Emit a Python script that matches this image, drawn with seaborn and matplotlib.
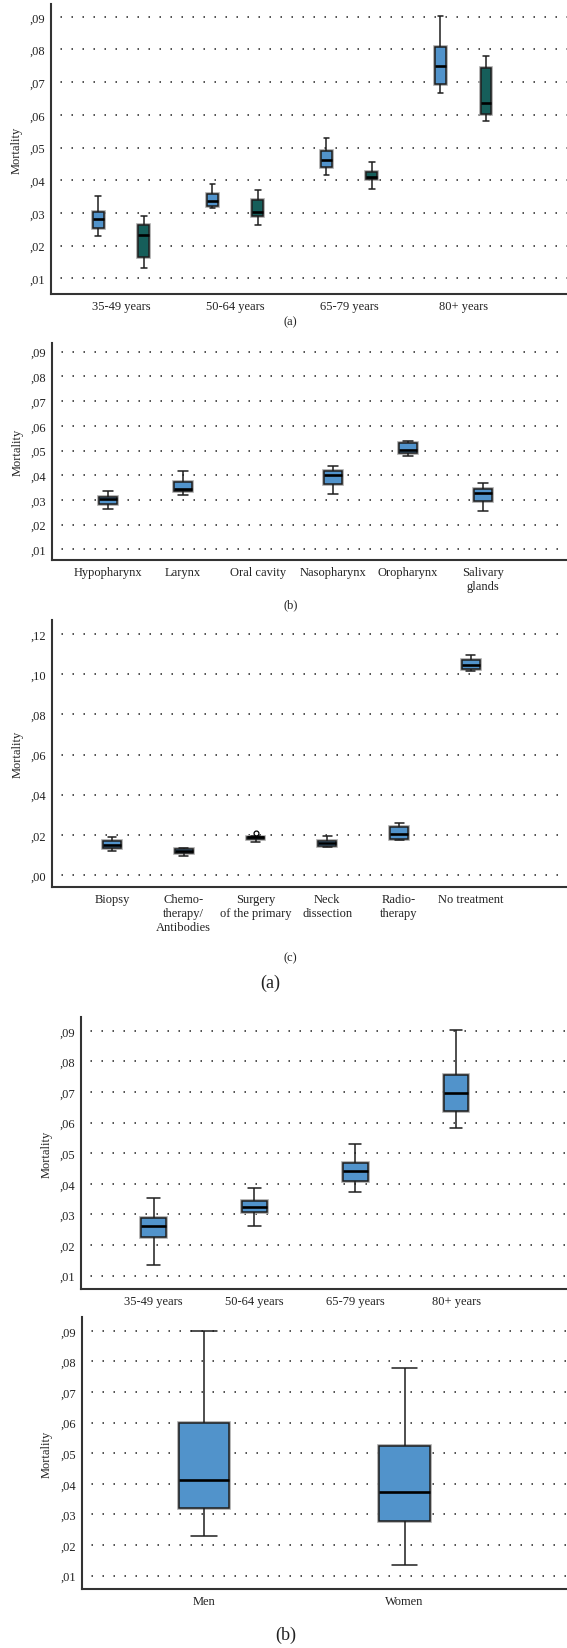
import numpy as np
import pandas as pd
import matplotlib
matplotlib.use('Agg')
import matplotlib.pyplot as plt
import matplotlib.patheffects as pe
from matplotlib.ticker import FuncFormatter, MultipleLocator
import seaborn as sns

sns.set_theme(style='white')
plt.rcParams['font.family'] = ['Liberation Serif', 'DejaVu Serif']

# box summaries: [whisker low, Q1, median, Q3, whisker high]
age_groups = ['35-49 years', '50-64 years', '65-79 years', '80+ years']
sexes = ['Men', 'Women']
age_men = [[0.0230, 0.0255, 0.0282, 0.0304, 0.0351],
           [0.0315, 0.0321, 0.0337, 0.0358, 0.0387],
           [0.0415, 0.0441, 0.0463, 0.0488, 0.0528],
           [0.0667, 0.0695, 0.0750, 0.0808, 0.0901]]
age_women = [[0.0132, 0.0165, 0.0233, 0.0263, 0.0290],
             [0.0263, 0.0290, 0.0304, 0.0338, 0.0370],
             [0.0372, 0.0404, 0.0411, 0.0426, 0.0456],
             [0.0580, 0.0604, 0.0637, 0.0743, 0.0781]]

sites = ['Hypopharynx', 'Larynx', 'Oral cavity', 'Nasopharynx', 'Oropharynx', 'Salivary\nglands']
site_stats = [[0.0264, 0.0285, 0.0302, 0.0313, 0.0336],
              [0.0321, 0.0335, 0.0344, 0.0372, 0.0416],
              None,
              [0.0324, 0.0363, 0.0399, 0.0416, 0.0438],
              [0.0476, 0.0488, 0.0503, 0.0529, 0.0538],
              [0.0255, 0.0294, 0.0328, 0.0345, 0.0370]]

treatments = ['Biopsy', 'Chemo-\ntherapy/\nAntibodies', 'Surgery\nof the primary',
              'Neck\ndissection', 'Radio-\ntherapy', 'No treatment']
treat_stats = [[0.0118, 0.0134, 0.0148, 0.0169, 0.0191],
               [0.0096, 0.0108, 0.0120, 0.0131, 0.0136],
               [0.0167, 0.0180, 0.0187, 0.0190, 0.0194],
               [0.0138, 0.0146, 0.0159, 0.0169, 0.0196],
               [0.0176, 0.0181, 0.0202, 0.0239, 0.0261],
               [0.1014, 0.1024, 0.1044, 0.1072, 0.1095]]
treat_fliers = [[], [], [0.0210], [], [], []]

age_all = [[0.0134, 0.0226, 0.0263, 0.0290, 0.0353],
           [0.0262, 0.0307, 0.0325, 0.0344, 0.0387],
           [0.0373, 0.0410, 0.0442, 0.0467, 0.0529],
           [0.0581, 0.0637, 0.0698, 0.0755, 0.0901]]
sex_stats = [[0.0231, 0.0322, 0.0413, 0.0599, 0.0900],
             [0.0134, 0.0278, 0.0374, 0.0525, 0.0780]]

blue = '#5193cb'
green = '#165e5a'
fsize = 9


def to_long(cats, stats, fliers=None, group=None):
    # points whose quartiles / ends give back the summaries above
    rows = []
    for i, (c, s) in enumerate(zip(cats, stats)):
        if s is None:
            continue
        lo, q1, med, q3, hi = s
        f = fliers[i] if fliers else []
        if f:
            vals = [lo, q1, q1, med, med, q3, q3, hi] + f
        else:
            vals = [lo, q1, med, q3, hi]
        rows += [(c, v, group) for v in vals]
    return pd.DataFrame(rows, columns=['cat', 'mortality', 'sex'])


W, H = 567, 1649
fig = plt.figure(figsize=(W / 100, H / 100), dpi=100)


def make_ax(l, t, r, b):
    return fig.add_axes([l / W, 1 - b / H, (r - l) / W, (b - t) / H])


def style(ax, xlim, ylim, step, lab_x):
    ax.set_xlim(*xlim)
    ax.set_ylim(*ylim)
    ax.yaxis.set_major_locator(MultipleLocator(step))
    ax.yaxis.set_major_formatter(FuncFormatter(lambda v, p: ',' + '{:.2f}'.format(abs(v))[2:]))
    ax.yaxis.grid(True, linestyle=(1, (1, 6.2)), color='#222222', linewidth=1.1)
    ax.xaxis.grid(False)
    ax.set_axisbelow(True)
    sns.despine(ax=ax)
    for s in ['left', 'bottom']:
        ax.spines[s].set_color('#333333')
        ax.spines[s].set_linewidth(1.5)
    ax.tick_params(length=0, labelsize=fsize, colors='#222222')
    ax.tick_params(axis='y', pad=4)
    ax.tick_params(axis='x', pad=4)
    for t in ax.get_xticklabels():
        t.set_linespacing(1.25)
    ax.set_xlabel('')
    ax.set_ylabel('Mortality', fontsize=fsize, color='#222222')
    ax.yaxis.set_label_coords(lab_x, 0.5)
    # faint grey rim round the boxes
    for p in ax.patches:
        p.set_path_effects([pe.Stroke(linewidth=2.6, foreground='#a8a8a8'), pe.Normal()])


box_kw = dict(linecolor='#1e1e1e', linewidth=1.1, saturation=1,
              medianprops=dict(color='black', linewidth=1.9),
              flierprops=dict(marker='o', markersize=3.5, markerfacecolor='white',
                              markeredgecolor='black', markeredgewidth=0.9))

# panel 1: age by sex
ax1 = make_ax(51, 5, 567, 295)
d1 = pd.concat([to_long(age_groups, age_men, group='Men'),
                to_long(age_groups, age_women, group='Women')])
sns.boxplot(data=d1, x='cat', y='mortality', hue='sex', order=age_groups, hue_order=sexes,
            palette=[blue, green], width=0.8, gap=0.76, whis=(0, 100), legend=False,
            ax=ax1, **box_kw)
style(ax1, (-0.614, 3.91), (0.0052, 0.0939), 0.01, (23 - 51) / 516)

# panel 2: tumour site
ax2 = make_ax(51.7, 344, 567, 561)
sns.boxplot(data=to_long(sites, site_stats), x='cat', y='mortality', order=sites,
            color=blue, width=0.245, whis=(0, 100), ax=ax2, **box_kw)
style(ax2, (-0.75, 6.12), (0.0057, 0.0935), 0.01, (24 - 51.7) / 515.3)

# panel 3: treatment
ax3 = make_ax(51.7, 621, 567, 888.3)
sns.boxplot(data=to_long(treatments, treat_stats, treat_fliers), x='cat', y='mortality',
            order=treatments, color=blue, width=0.25, whis=1.5, ax=ax3, **box_kw)
style(ax3, (-0.84, 6.34), (-0.0061, 0.127), 0.02, (24 - 51.7) / 515.3)

# panel 4: age, all patients
ax4 = make_ax(81, 1018.3, 567, 1290)
sns.boxplot(data=to_long(age_groups, age_all), x='cat', y='mortality', order=age_groups,
            color=blue, width=0.245, whis=(0, 100), ax=ax4, **box_kw)
style(ax4, (-0.72, 4.10), (0.00565, 0.0944), 0.01, (53 - 81) / 486)

# panel 5: sex
ax5 = make_ax(81.7, 1318, 567, 1590)
sns.boxplot(data=to_long(sexes, sex_stats), x='cat', y='mortality', order=sexes,
            color=blue, width=0.254, whis=(0, 100), ax=ax5, **box_kw)
style(ax5, (-0.61, 1.81), (0.00565, 0.0945), 0.01, (53 - 81.7) / 485.3)

for x, y, s, fs in [(290, 322.7, '(a)', fsize), (290.7, 605, '(b)', fsize), (290.7, 958.5, '(c)', fsize),
                    (270, 983, '(a)', 13), (285.7, 1635, '(b)', 13)]:
    fig.text(x / W, 1 - y / H, s, ha='center', va='center', fontsize=fs, color='#222222')

fig.savefig('out.png', dpi=100)
